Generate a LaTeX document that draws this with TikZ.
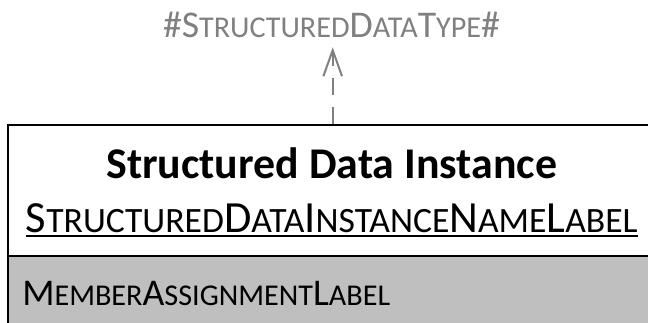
\documentclass[tikz,border=0pt]{standalone}
\usepackage{fontspec}
\usepackage{graphicx}
\setmainfont{Carlito}
\usetikzlibrary{arrows.meta}

% synthesized small capitals: lower part of each word set at 80%
\newcommand\lo[1]{\scalebox{0.8}{#1}}

\definecolor{compgray}{HTML}{BFBFBF}
\definecolor{typegray}{HTML}{808080}

\tikzset{
  classbox/.style={draw=black, line width=1.5pt, rectangle, inner sep=0pt,
    minimum width=487.05pt, minimum height=162pt, anchor=north west},
  divider/.style={draw=black, line width=1.5pt},
  titletext/.style={inner sep=0pt, anchor=base, font=\fontsize{32.9}{38}\selectfont\bfseries},
  nametext/.style={inner sep=0pt, anchor=base, font=\fontsize{33.4}{38}\selectfont},
  membertext/.style={inner sep=0pt, anchor=base west, font=\fontsize{28.3}{33}\selectfont},
  typetext/.style={inner sep=0pt, anchor=base, text=typegray, font=\fontsize{28.3}{33}\selectfont},
  realize/.style={draw=typegray, line width=1.5pt, dash pattern=on 12.75pt off 9pt,
    -{Straight Barb[length=19.5pt,width=14pt,line width=1.5pt]}},
}

\begin{document}
\begin{tikzpicture}[x=0.75pt,y=-0.75pt]
\useasboundingbox (0,0) rectangle (648,322);
\clip (0,0) rectangle (648,322);

% member compartment background
\fill[compgray] (7,256) rectangle (670,350);

% instance box
\node[classbox] (inst) at (7,124) {};
\draw[divider] (inst.west |- 0,256) -- (inst.east |- 0,256);

% header texts
\node[titletext] (title) at (331.7,178) {Structured Data Instance};
\node[nametext] (name) at (331.8,232)
  {S\lo{TRUCTURED}D\lo{ATA}I\lo{NSTANCE}N\lo{AME}L\lo{ABEL}};
\draw[line width=1.5pt] ([yshift=-3pt]name.base west) -- ([yshift=-3pt]name.base east);

% member compartment
\node[membertext] (member) at (22,305) {M\lo{EMBER}A\lo{SSIGNMENT}L\lo{ABEL}};

% type label and realization arrow
\node[typetext] (type) at (331.5,37) {\#S\lo{TRUCTURED}D\lo{ATA}T\lo{YPE}\#};
\draw[realize, shorten >=7.3pt] (inst.north) -- (inst.north |- type.south);
\end{tikzpicture}
\end{document}
